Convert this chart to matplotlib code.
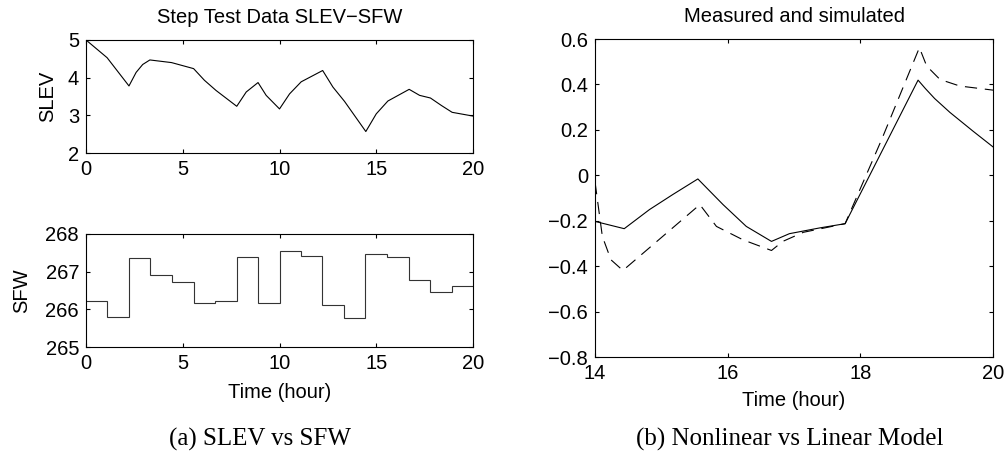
"""
Figura de dois paineis: (a) dados do teste em degrau SLEV/SFW,
(b) comparacao modelo nao linear (medido) vs linear (simulado).
"""

import matplotlib
matplotlib.use('Agg')
import matplotlib.pyplot as plt
from matplotlib.ticker import FuncFormatter

# --- (a) SLEV: resposta ao degrau (hora, valor)
slev_t = [0.0, 1.09, 2.22, 2.59, 2.93, 3.30, 4.42, 5.56, 6.12, 6.72, 7.79,
          8.28, 8.89, 9.31, 10.0, 10.52, 11.12, 12.23, 12.76, 13.36, 14.46,
          15.0, 15.6, 16.70, 17.24, 17.80, 18.37, 18.92, 20.0]
slev_v = [5.0, 4.53, 3.78, 4.14, 4.35, 4.47, 4.40, 4.24, 3.93, 3.66, 3.24,
          3.62, 3.87, 3.53, 3.17, 3.57, 3.89, 4.19, 3.75, 3.37, 2.57,
          3.04, 3.38, 3.69, 3.53, 3.46, 3.26, 3.08, 2.98]

# --- (a) SFW: entrada em degraus
sfw_edges = [0.0, 1.11, 2.22, 3.33, 4.44, 5.56, 6.67, 7.78, 8.89, 10.0,
             11.11, 12.22, 13.33, 14.44, 15.56, 16.67, 17.78, 18.89, 20.0]
sfw_levels = [266.23, 265.80, 267.35, 266.90, 266.73, 266.16, 266.21,
              267.40, 266.18, 267.55, 267.42, 266.11, 265.76, 267.48,
              267.39, 266.79, 266.47, 266.63]

# --- (b) medido (continuo) e simulado (tracejado)
meas_t = [14.0, 14.44, 14.82, 15.17, 15.55, 15.93, 16.28, 16.66, 16.93,
          17.38, 17.77, 18.87, 18.98, 19.12, 19.35, 19.70, 20.0]
meas_v = [-0.203, -0.235, -0.151, -0.085, -0.016, -0.129, -0.225, -0.291,
          -0.257, -0.232, -0.213, 0.419, 0.382, 0.338, 0.277, 0.194, 0.125]
sim_t = [14.0, 14.11, 14.24, 14.42, 15.58, 15.83, 16.23, 16.66, 16.83,
         17.14, 17.77, 18.32, 18.89, 19.0, 19.20, 19.50, 20.0]
sim_v = [-0.03, -0.269, -0.372, -0.419, -0.129, -0.225, -0.284, -0.331,
         -0.291, -0.251, -0.213, 0.157, 0.562, 0.481, 0.422, 0.393, 0.375]

SANS = 'Liberation Sans'
SERIF = 'Liberation Serif'
FS = 14.5
LW = 0.8

plt.rcParams['font.family'] = SANS
plt.rcParams['font.size'] = FS
plt.rcParams['axes.linewidth'] = LW


def _fmt(v, pos):
    return ('%g' % v).replace('-', '\u2212')


def _matlab_axes(ax):
    ax.tick_params(direction='in', top=True, right=True, length=3,
                   width=LW, pad=5, labelsize=FS)
    ax.yaxis.set_major_formatter(FuncFormatter(_fmt))
    ax.xaxis.set_major_formatter(FuncFormatter(_fmt))


fig = plt.figure(figsize=(10.06, 4.57), dpi=100)

ax1 = fig.add_axes([0.0855, 0.6652, 0.3847, 0.2473])
ax1.plot(slev_t, slev_v, color='black', lw=LW)
ax1.set_xlim(0, 20)
ax1.set_ylim(2, 5)
ax1.set_xticks([0, 5, 10, 15, 20])
ax1.set_yticks([2, 3, 4, 5])
ax1.set_ylabel('SLEV', labelpad=8)
ax1.set_title('Step Test Data SLEV\u2212SFW', fontsize=FS, pad=12.5)
_matlab_axes(ax1)

ax2 = fig.add_axes([0.0855, 0.2407, 0.3847, 0.2473])
ax2.stairs(sfw_levels, sfw_edges, baseline=None, color='#333333', lw=LW)
ax2.set_xlim(0, 20)
ax2.set_ylim(265, 268)
ax2.set_xticks([0, 5, 10, 15, 20])
ax2.set_yticks([265, 266, 267, 268])
ax2.set_ylabel('SFW', labelpad=10)
ax2.set_xlabel('Time (hour)', labelpad=7)
_matlab_axes(ax2)

ax3 = fig.add_axes([0.5915, 0.2188, 0.3956, 0.6958])
ax3.plot(meas_t, meas_v, color='black', lw=LW)
ax3.plot(sim_t, sim_v, color='black', lw=LW, dashes=(11, 7))
ax3.set_xlim(14, 20)
ax3.set_ylim(-0.8, 0.6)
ax3.set_xticks([14, 16, 18, 20])
ax3.set_yticks([-0.8, -0.6, -0.4, -0.2, 0, 0.2, 0.4, 0.6])
ax3.set_xlabel('Time (hour)', labelpad=6)
ax3.set_title('Measured and simulated', fontsize=FS, pad=12.5)
_matlab_axes(ax3)

fig.text(260 / 1006, 1 - 439 / 457, '(a) SLEV vs SFW', family=SERIF,
         fontsize=18, ha='center', va='center')
fig.text(790 / 1006, 1 - 439 / 457, '(b) Nonlinear vs Linear Model',
         family=SERIF, fontsize=18, ha='center', va='center')

fig.savefig('out.png', dpi=100)
plt.close(fig)
